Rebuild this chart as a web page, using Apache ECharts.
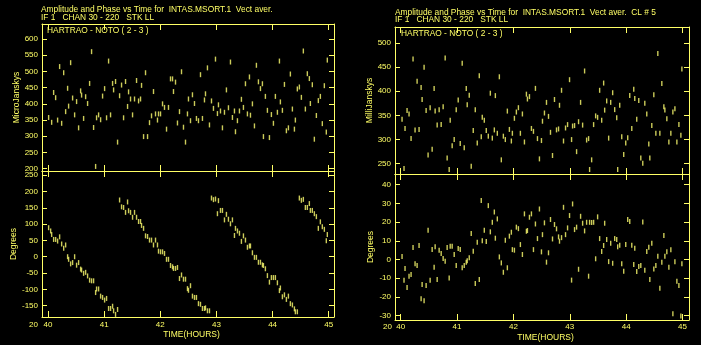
<!DOCTYPE html>
<html><head><meta charset="utf-8">
<style>html,body{margin:0;padding:0;background:#000;}#c{width:701px;height:345px;}</style>
<script src="https://cdn.jsdelivr.net/npm/echarts@6/dist/echarts.min.js"></script>
</head><body><div id="c"></div>
<script>
// ---- data ----
const xTicks = [40, 41, 42, 43, 44, 45];
const leftAmpTicks = [200, 250, 300, 350, 400, 450, 500, 550, 600];
const leftPhaseTicks = [-150, -100, -50, 0, 50, 100, 150, 200, 250];
const rightAmpTicks = [250, 300, 350, 400, 450, 500];
const rightPhaseTicks = [-30, -20, -10, 0, 10, 20, 30, 40];

const leftTime = [40.011,40.047,40.065,40.100,40.136,40.171,40.207,40.243,40.279,40.314,40.349,40.367,40.403,40.438,40.474,40.509,40.545,40.581,40.598,40.634,40.670,40.705,40.741,40.776,40.812,40.848,40.865,40.901,40.937,40.972,41.008,41.043,41.079,41.114,41.150,41.168,41.203,41.239,41.275,41.310,41.346,41.381,41.417,41.435,41.470,41.506,41.541,41.577,41.613,41.648,41.666,41.702,41.737,41.773,41.808,41.844,41.879,41.915,41.950,41.968,42.004,42.040,42.075,42.111,42.146,42.182,42.218,42.235,42.271,42.306,42.342,42.378,42.413,42.449,42.484,42.502,42.538,42.573,42.609,42.644,42.680,
42.716,42.751,42.787,42.805,42.840,42.876,42.912,42.947,42.983,43.018,43.036,43.072,43.107,43.143,43.178,43.214,43.250,43.285,43.321,43.339,43.374,43.410,43.445,43.481,43.517,43.552,43.588,43.606,43.641,43.677,43.712,43.748,43.784,43.819,43.837,43.872,43.908,43.944,43.979,44.015,44.050,44.086,44.122,44.139,44.175,44.211,44.246,44.282,44.317,44.353,44.389,44.406,44.441,44.477,44.513,44.548,44.584,44.619,44.655,44.673,44.708,44.744,44.780,44.815,44.851,44.886,44.922,44.957,44.975];

const leftAmp = [358,null,343,435,419,350,515,340,496,376,448,393,527,418,366,407,326,440,427,355,422,401,463,561,327,207,357,366,351,424,447,357,532,366,463,443,469,282,425,458,357,469,392,437,415,366,415,472,409,415,457,299,496,299,342,363,438,369,350,369,369,400,389,322,389,477,477,438,467,341,376,499,328,282,369,415,348,428,401,355,348,
490,355,412,431,511,335,409,386,538,370,397,378,326,374,443,388,529,358,378,314,348,378,414,389,462,369,483,365,400,332,519,468,447,462,299,423,380,296,367,340,423,374,532,406,380,460,317,326,492,384,322,350,446,452,420,563,384,493,478,401,459,291,364,410,423,339,456,313,535];

const leftPhase = [89,79,68,53,53,48,61,39,26,36,0,-8,-22,-18,0,-26,-18,-38,-41,-51,-48,-59,-72,-74,-74,-110,-99,-99,-121,-125,-133,-128,-159,-159,-152,-166,-177,-162,174,153,151,136,168,141,136,121,136,121,108,108,96,87,64,62,51,51,36,51,36,17,15,15,10,-8,-8,-27,-31,-36,-36,-33,-67,-56,-69,-69,-98,-103,-89,-121,-125,-125,-144,
-146,-159,-159,-157,-166,-166,180,175,177,132,172,142,142,113,130,115,101,113,65,87,79,72,47,64,51,29,33,33,12,-2,-2,-17,-17,-25,-27,-37,-58,-78,-64,-64,-64,-80,-104,-96,-123,-117,-131,-121,-144,-148,-160,-169,-169,180,173,176,151,151,163,142,142,132,123,87,107,92,84,49,68];

const rightTime = [40.024,40.059,40.077,40.113,40.148,40.184,40.219,40.255,40.291,40.326,40.362,40.380,40.415,40.451,40.486,40.522,40.558,40.593,40.611,40.647,40.682,40.718,40.753,40.789,40.824,40.860,40.878,40.913,40.949,40.985,41.020,41.056,41.091,41.127,41.163,41.180,41.216,41.251,41.287,41.323,41.358,41.394,41.429,41.447,41.483,41.518,41.554,41.590,41.625,41.661,41.679,41.714,41.750,41.785,41.821,41.856,41.892,41.928,41.963,41.981,42.017,42.052,42.088,42.123,42.159,42.195,42.230,42.248,42.284,42.319,42.355,42.390,42.426,42.461,42.497,42.515,42.550,42.586,42.622,
42.657,42.693,42.728,42.764,42.800,42.817,42.853,42.888,42.924,42.960,42.995,43.031,43.049,43.084,43.120,43.155,43.191,43.227,43.262,43.298,43.333,43.351,43.387,43.422,43.458,43.493,43.529,43.565,43.600,43.618,43.654,43.689,43.725,43.760,43.796,43.832,43.849,43.885,43.921,43.956,43.992,44.027,44.063,44.099,44.134,44.152,44.187,44.223,44.259,44.294,44.330,44.365,44.401,44.419,44.454,44.490,44.526,44.561,44.597,44.632,44.668,44.686,44.721,44.757,44.792,44.828,44.864,44.899,44.935,44.970,44.988];

const rightAmp = [342,240,323,360,353,302,467,320,421,321,408,383,450,360,268,366,280,406,359,330,362,331,368,469,262,238,340,287,300,362,382,292,458,283,406,372,392,245,319,362,293,432,306,346,340,319,307,396,303,320,391,313,430,258,307,300,359,321,297,313,344,357,366,313,353,295,394,384,389,323,317,406,302,260,298,338,355,377,348,
315,267,383,320,322,371,402,297,324,331,424,300,328,329,275,337,377,330,442,299,302,238,258,331,349,346,402,340,417,361,380,303,377,397,362,345,238,371,306,269,293,304,391,323,404,385,342,381,262,251,375,353,291,262,329,393,313,478,313,416,368,361,343,295,313,357,364,295,331,309,446];

const rightPhase = [1.6,-11,-4.8,-15,-8.9,-8,6.4,-2.3,-3.2,7.5,-21,-13.3,-22,-13.9,15.7,-11,5.3,-4.1,6.8,-10.7,5,3.2,0.5,-0.9,6.4,-9.8,7.1,7.1,2.7,-3.2,5.9,5.3,-4.4,-3.2,-1.4,-0.7,0.9,13.9,4.4,-12.8,9.3,-10.7,31.5,10,15.7,9.6,28.8,14.8,19.9,25.4,11.4,21.7,1.4,-1.8,-6.8,10.3,-4.4,12.5,14.6,5.3,5,17.3,16.5,8,2.7,24.4,15.1,15.5,22.6,24.4,5.3,19,11.2,27,4.1,13.3,19.6,-1.4,3.6,
21.4,11,18.7,16.4,12.1,9.8,11.7,27.9,13.3,16.9,23.5,-11,29.7,16,17.3,-5.2,23.1,19.4,15.3,19.9,-8.9,19.9,19.8,19.9,0.4,22.8,11.2,4.3,7.5,19.4,10.7,-1.1,8.7,-2,11.2,10.7,6.8,7.7,-2.3,-6.2,8,21.4,20.3,7.7,-2.7,6,-6.4,-3.7,-3.2,20.1,-5.7,4.3,6.6,-10.7,8.7,-5,-3.2,1.8,-15.3,-1.4,12.8,1.8,4.1,-4.1,5.2,-29,-1.2,-11.6,-13.9,-30.2,-2.3];

// ---- styling / layout ----
const Y = '#ffff66';
const MARK = '#ffff70';
const FONT = 'Liberation Sans';
const FS = 8;
const TFS = 8.4;

function pairs(t, v) { return t.map((x, i) => [x, v[i]]).filter(p => p[1] !== null && p[1] !== undefined); }

function xAx(g, pos, showLabel, range, margin, name) {
  return {
    type: 'value', gridIndex: g, position: pos, min: range[0], max: range[1],
    axisLine: { show: true, onZero: false, lineStyle: { color: Y, width: 1 } },
    axisTick: { show: true, inside: true, length: 6, customValues: xTicks, lineStyle: { color: Y, width: 1 } },
    axisLabel: { show: showLabel, customValues: xTicks, color: Y, fontSize: FS, fontFamily: FONT, margin: margin },
    splitLine: { show: false },
    name: name || '', nameLocation: 'middle', nameGap: 13,
    nameTextStyle: { color: Y, fontSize: 8.5, fontFamily: FONT, padding: [0, 0, 0, 7] }
  };
}
function yAx(g, pos, showLabel, range, ticks, name, gap) {
  return {
    type: 'value', gridIndex: g, position: pos, min: range[0], max: range[1],
    axisLine: { show: true, onZero: false, lineStyle: { color: Y, width: 1 } },
    axisTick: { show: true, inside: true, length: 5, customValues: ticks, lineStyle: { color: Y, width: 1 } },
    axisLabel: { show: showLabel, customValues: ticks, color: Y, fontSize: FS, fontFamily: FONT, margin: 4 },
    splitLine: { show: false },
    name: name || '', nameLocation: 'middle', nameRotate: 90, nameGap: gap || 22,
    nameTextStyle: { color: Y, fontSize: 8.5, fontFamily: FONT }
  };
}

const LX = [39.893, 45.094];
const RX = [39.899, 45.114];
const grids = [
  { left: 42, top: 24, width: 292, height: 147 },
  { left: 42, top: 171, width: 292, height: 146 },
  { left: 395, top: 27, width: 294, height: 147 },
  { left: 395, top: 174, width: 294, height: 146 }
];

const xAxes = [
  xAx(0, 'bottom', false, LX, 4), xAx(0, 'top', false, LX, 4),
  xAx(1, 'bottom', true, LX, 4, 'TIME(HOURS)'), xAx(1, 'top', false, LX, 4),
  xAx(2, 'bottom', false, RX, 3), xAx(2, 'top', false, RX, 3),
  xAx(3, 'bottom', true, RX, 3, 'TIME(HOURS)'), xAx(3, 'top', false, RX, 3)
];
const yAxes = [
  yAx(0, 'left', true, [192.9, 646.3], leftAmpTicks, 'MicroJanskys', 21),
  yAx(0, 'right', false, [192.9, 646.3], leftAmpTicks),
  yAx(1, 'left', true, [-185, 263], leftPhaseTicks, 'Degrees', 21),
  yAx(1, 'right', false, [-185, 263], leftPhaseTicks),
  yAx(2, 'left', true, [228.7, 533.1], rightAmpTicks, 'MilliJanskys', 20),
  yAx(2, 'right', false, [228.7, 533.1], rightAmpTicks),
  yAx(3, 'left', true, [-32.3, 45.7], rightPhaseTicks, 'Degrees', 20),
  yAx(3, 'right', false, [-32.3, 45.7], rightPhaseTicks)
];

function sc(g, data) {
  return {
    type: 'scatter', xAxisIndex: 2 * g, yAxisIndex: 2 * g, data: data,
    symbol: 'rect', symbolSize: [1.4, 5], itemStyle: { color: MARK }, silent: true, animation: false
  };
}

function txt(x, y, s, fs) {
  return { type: 'text', left: x, top: y, silent: true,
    style: { text: s, fill: Y, font: (fs || TFS) + 'px "' + FONT + '"' } };
}

const chart = echarts.init(document.getElementById('c'), null, { renderer: 'canvas' });
chart.setOption({
  backgroundColor: '#000',
  animation: false,
  grid: grids,
  xAxis: xAxes,
  yAxis: yAxes,
  series: [
    sc(0, pairs(leftTime, leftAmp)),
    sc(1, pairs(leftTime, leftPhase)),
    sc(2, pairs(rightTime, rightAmp)),
    sc(3, pairs(rightTime, rightPhase))
  ],
  graphic: [
    txt(41, 5.5, 'Amplitude and Phase vs Time for  INTAS.MSORT.1  Vect aver.'),
    txt(41, 13.5, 'IF 1   CHAN 30 - 220   STK LL'),
    txt(47, 27, 'HARTRAO - NOTO ( 2 - 3 )'),
    txt(395, 8.5, 'Amplitude and Phase vs Time for  INTAS.MSORT.1  Vect aver.  CL # 5'),
    txt(395, 16, 'IF 1   CHAN 30 - 220   STK LL'),
    txt(401, 30, 'HARTRAO - NOTO ( 2 - 3 )'),
    txt(29, 320.5, '20', FS),
    txt(383, 322.5, '20', FS)
  ]
});
</script></body></html>
